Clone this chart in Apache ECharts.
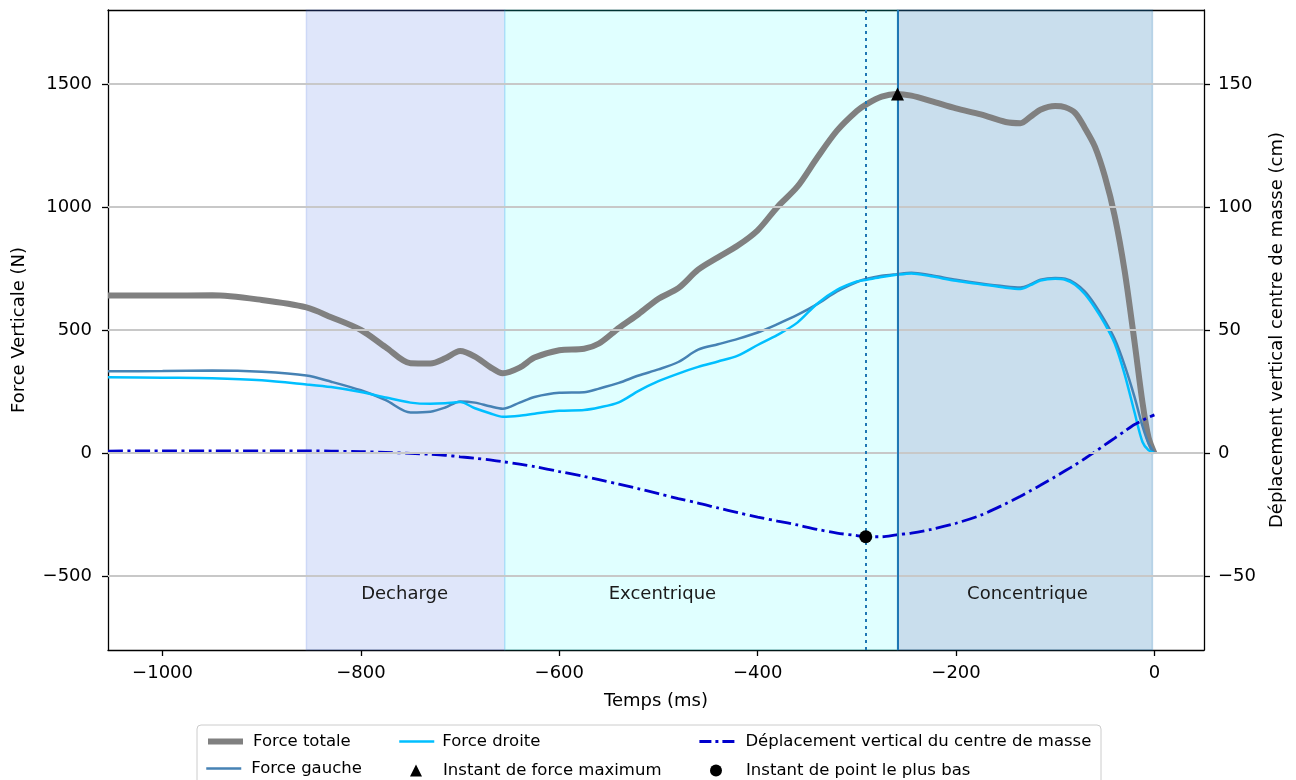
<!DOCTYPE html>
<html>
<head>
<meta charset="utf-8">
<script src="https://cdn.jsdelivr.net/npm/echarts@6/dist/echarts.min.js"></script>
<style>
  html, body { margin: 0; padding: 0; background: #fff; }
  #chart { width: 1296px; height: 780px; }
</style>
</head>
<body>
<div id="chart"></div>
<script>
(function () {
  'use strict';

  // temps (ms)
  var temps = [-1055, -1000, -950, -900, -855, -830, -800, -775, -750, -730, -715, -700, -685, -670, -657,
    -640, -625, -600, -575, -560, -540, -520, -500, -480, -460, -440, -420, -400, -380, -360, -340, -320,
    -300, -290, -275, -260, -245, -225, -200, -175, -150, -135, -125, -115, -100, -90, -80, -70, -60, -50,
    -40, -30, -20, -12, -6, 0];

  // forces (N)
  var forceTotale = [640, 640, 641, 622, 592, 552, 500, 430, 365, 364, 385, 415, 392, 350, 324,
    347, 388, 418, 424, 445, 508, 565, 627, 670, 745, 795, 843, 905, 1000, 1082, 1200, 1310,
    1390, 1418, 1448, 1459, 1452, 1430, 1400, 1376, 1345, 1340, 1366, 1395, 1410, 1405, 1382, 1320, 1245, 1125,
    963, 740, 450, 205, 65, 0];

  var forceGauche = [332, 333, 335, 330, 315, 290, 255, 215, 165, 168, 185, 210, 205, 190, 180,
    205, 228, 245, 247, 262, 285, 315, 340, 370, 420, 442, 464, 490, 524, 561, 605, 657,
    695, 708, 720, 727, 733, 722, 704, 689, 677, 673, 685, 704, 711, 708, 690, 656, 603, 538,
    463, 356, 227, 109, 40, 0];

  var forceDroite = [308, 306, 304, 296, 279, 268, 248, 226, 205, 200, 202, 207, 182, 162, 148,
    152, 160, 172, 175, 185, 206, 253, 292, 323, 350, 372, 396, 439, 480, 530, 607, 663,
    697, 704, 715, 724, 730, 718, 700, 686, 672, 667, 682, 701, 708, 704, 684, 645, 590, 525,
    445, 320, 165, 45, 12, 0];

  // déplacement du centre de masse (cm)
  var deplacement = [0.8, 0.9, 0.9, 0.9, 0.9, 0.8, 0.6, 0.3, -0.1, -0.5, -0.9, -1.5, -2.1, -2.8, -3.5,
    -4.5, -5.5, -7.5, -9.5, -10.8, -12.6, -14.5, -16.5, -18.5, -20.3, -22.3, -24.2, -26.0, -27.6, -29.2, -31.0, -32.5,
    -33.5, -34.0, -34.0, -33.2, -32.5, -31.0, -28.5, -25.2, -20.6, -17.5, -15.3, -13.1, -9.6, -7.2, -4.8, -2.2, 0.5, 3.3,
    6.1, 8.9, 11.6, 13.3, 14.5, 15.5];

  // instants
  var forceMax = [-259, 1459];
  var pointBas = [-291, -34];

  // phases
  var phaseNames = ['Decharge', 'Excentrique', 'Concentrique'];
  var phaseStart = [-855, -655, -259];
  var phaseEnd = [-655, -259, -2];
  var phaseLabelX = [-756, -496, -128];
  var phaseLabelY = -575;

  var gridValues = [-500, 0, 500, 1000, 1500];

  var phaseColors = ['rgba(65,105,225,0.17)', 'rgba(0,255,255,0.12)', 'rgba(31,119,180,0.24)'];
  var FONT = 'DejaVu Sans';

  function zip(xs, ys) {
    return xs.map(function (x, i) { return [x, ys[i]]; });
  }

  function minus(v) {
    return String(v).replace('-', '\u2212');
  }

  var bandData = phaseNames.map(function (n, i) {
    return [
      { xAxis: phaseStart[i], itemStyle: { color: phaseColors[i], borderColor: phaseColors[i], borderWidth: 1.5 } },
      { xAxis: phaseEnd[i] }
    ];
  });

  var gridLines = gridValues.map(function (v) {
    return { yAxis: v, lineStyle: { color: '#c8c8c8', width: 2, type: 'solid' } };
  });

  // one legend per entry, laid out like the 3-column matplotlib legend
  function legendText(pad) {
    return { fontFamily: FONT, fontSize: 16.5, color: '#000', lineHeight: 16, padding: [0, 0, 0, pad] };
  }

  function legendItem(name, left, top, pad, lineStyle) {
    return {
      orient: 'horizontal', left: left, top: top, data: [name],
      itemWidth: 35, itemHeight: 14, selectedMode: false,
      itemStyle: { opacity: 0 },
      lineStyle: lineStyle,
      textStyle: legendText(pad)
    };
  }

  function markerLegend(name, left, top, pad) {
    return {
      orient: 'horizontal', left: left, top: top, data: [name],
      itemWidth: 12, itemHeight: 12, selectedMode: false,
      itemStyle: { opacity: 1, color: '#000' },
      textStyle: legendText(pad)
    };
  }

  var myChart = echarts.init(document.getElementById('chart'), null, { renderer: 'canvas' });

  var axisText = { fontFamily: FONT, fontSize: 18, color: '#000' };

  var option = {
    animation: false,
    backgroundColor: '#fff',
    textStyle: { fontFamily: FONT },
    grid: { left: 108, right: 92, top: 10, bottom: 130, containLabel: false },
    xAxis: [{
      type: 'value', min: -1055, max: 50,
      name: 'Temps (ms)', nameLocation: 'middle', nameGap: 42,
      nameTextStyle: axisText,
      axisLine: { show: true, onZero: false, lineStyle: { color: '#000', width: 1.3 } },
      axisTick: { show: true, length: 6, lineStyle: { color: '#000', width: 1.3 } },
      axisLabel: Object.assign({ margin: 14, showMinLabel: false, showMaxLabel: false, formatter: minus }, axisText),
      splitLine: { show: false }
    }, {
      type: 'value', min: -1055, max: 50, position: 'top',
      axisLine: { show: true, onZero: false, lineStyle: { color: '#000', width: 1.3 } },
      axisTick: { show: false }, axisLabel: { show: false }, splitLine: { show: false }
    }],
    yAxis: [{
      type: 'value', min: -800, max: 1800, position: 'left',
      name: 'Force Verticale (N)', nameLocation: 'middle', nameGap: 80, nameRotate: 90,
      nameTextStyle: axisText,
      axisLine: { show: true, onZero: false, lineStyle: { color: '#000', width: 1.3 } },
      axisTick: { show: true, length: 6, lineStyle: { color: '#000', width: 1.3 } },
      axisLabel: Object.assign({ margin: 16, showMinLabel: false, showMaxLabel: false, formatter: minus }, axisText),
      splitLine: { show: false }
    }, {
      type: 'value', min: -80, max: 180, position: 'right',
      name: 'Déplacement vertical centre de masse (cm)', nameLocation: 'middle', nameGap: 64, nameRotate: 90,
      nameTextStyle: axisText,
      axisLine: { show: true, onZero: false, lineStyle: { color: '#000', width: 1.3 } },
      axisTick: { show: true, length: 6, lineStyle: { color: '#000', width: 1.3 } },
      axisLabel: Object.assign({ margin: 14, showMinLabel: false, showMaxLabel: false, formatter: minus }, axisText),
      splitLine: { show: false }
    }],
    legend: [
      legendItem('Force totale', 200, 728, 5, { width: 6 }),
      legendItem('Force gauche', 200, 755, 5, { width: 2.5 }),
      legendItem('Force droite', 393, 728, 3, { width: 2.5 }),
      markerLegend('Instant de force maximum', 405, 757, 16),
      legendItem('Déplacement vertical du centre de masse', 693, 728, 6, { width: 2.8, type: [12, 4, 3, 4] }),
      markerLegend('Instant de point le plus bas', 705, 757, 19)
    ],
    graphic: [{
      type: 'rect', z: -1,
      shape: { x: 197, y: 725, width: 904, height: 70, r: 4 },
      style: { fill: 'rgba(255,255,255,0.8)', stroke: '#cccccc', lineWidth: 1 }
    }],
    series: [{
      name: 'phases', type: 'line', data: [], z: 1, silent: true,
      markArea: { silent: true, data: bandData },
      markLine: { silent: true, symbol: 'none', label: { show: false }, data: gridLines }
    }, {
      name: 'Force totale', type: 'line', z: 3, symbol: 'none', smooth: 0.3,
      data: zip(temps, forceTotale),
      itemStyle: { color: '#808080' },
      lineStyle: { color: '#808080', width: 6 }
    }, {
      name: 'Force gauche', type: 'line', z: 3, symbol: 'none', smooth: 0.3,
      data: zip(temps, forceGauche),
      itemStyle: { color: '#4682b4' },
      lineStyle: { color: '#4682b4', width: 2.5 }
    }, {
      name: 'Force droite', type: 'line', z: 3, symbol: 'none', smooth: 0.3,
      data: zip(temps, forceDroite),
      itemStyle: { color: '#00bfff' },
      lineStyle: { color: '#00bfff', width: 2.5 }
    }, {
      name: 'Déplacement vertical du centre de masse', type: 'line', yAxisIndex: 1, z: 3, symbol: 'none', smooth: 0.3,
      data: zip(temps, deplacement),
      itemStyle: { color: '#0000cd' },
      lineStyle: { color: '#0000cd', width: 2.8, type: [15, 4.5, 3, 4.5] }
    }, {
      name: 'verticales', type: 'line', data: [], z: 4, silent: true,
      markLine: {
        silent: true, symbol: 'none', label: { show: false },
        data: [
          { xAxis: pointBas[0], lineStyle: { color: '#1f77b4', width: 2, type: [3, 4] } },
          { xAxis: forceMax[0], lineStyle: { color: '#1f77b4', width: 2, type: 'solid' } }
        ]
      }
    }, {
      name: 'Instant de force maximum', type: 'scatter', z: 5, symbol: 'triangle', symbolSize: 13,
      data: [forceMax], itemStyle: { color: '#000', opacity: 1 }
    }, {
      name: 'Instant de point le plus bas', type: 'scatter', yAxisIndex: 1, z: 5, symbol: 'circle', symbolSize: 13,
      data: [pointBas], itemStyle: { color: '#000', opacity: 1 }
    }, {
      name: 'labels', type: 'scatter', z: 5, symbolSize: 0, silent: true,
      data: phaseNames.map(function (n, i) { return { name: n, value: [phaseLabelX[i], phaseLabelY] }; }),
      itemStyle: { opacity: 1 },
      label: {
        show: true, position: 'inside', formatter: '{b}',
        fontFamily: FONT, fontSize: 18, color: '#1a1a1a', opacity: 1
      }
    }]
  };

  myChart.setOption(option);
})();
</script>
</body>
</html>
